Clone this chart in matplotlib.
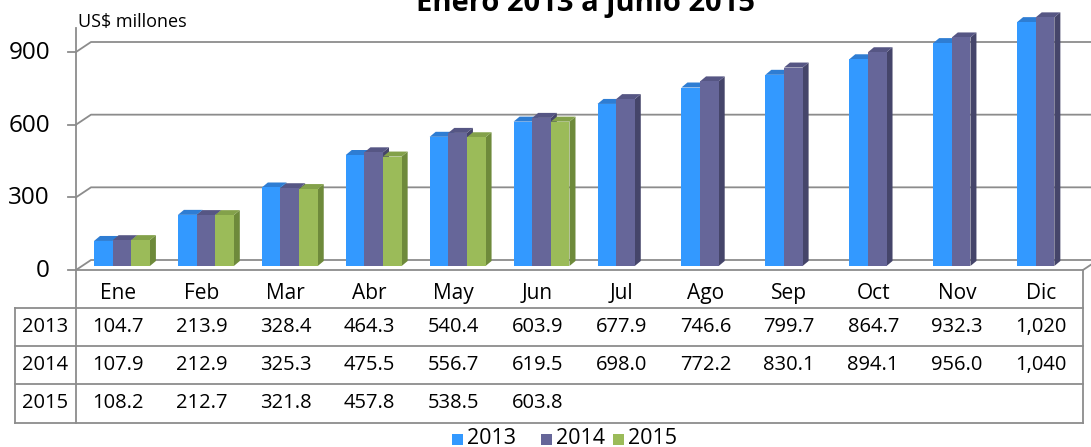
import matplotlib
matplotlib.use("Agg")
import matplotlib.pyplot as plt
from matplotlib.patches import Polygon, Rectangle
from matplotlib.lines import Line2D
from matplotlib.transforms import Affine2D, IdentityTransform

plt.rcParams['font.family'] = ['Open Sans', 'DejaVu Sans']

# data
months = ["Ene", "Feb", "Mar", "Abr", "May", "Jun",
          "Jul", "Ago", "Sep", "Oct", "Nov", "Dic"]
years = ["2013", "2014", "2015"]
v2013 = [104.7, 213.9, 328.4, 464.3, 540.4, 603.9, 677.9, 746.6, 799.7, 864.7, 932.3, 1020]
v2014 = [107.9, 212.9, 325.3, 475.5, 556.7, 619.5, 698.0, 772.2, 830.1, 894.1, 956.0, 1040]
v2015 = [108.2, 212.7, 321.8, 457.8, 538.5, 603.8]
series = [v2013, v2014, v2015]
yticks = [0, 300, 600, 900]

title = "Enero 2013 a junio 2015"
unit_label = "US$ millones"

front_cols = ['#3399FF', '#666699', '#9BBB59']
top_cols = ['#2E7DD3', '#565684', '#83A14A']
side_cols = ['#2566B0', '#45456A', '#6E8A3B']
line_col = '#8C8C8C'

W, H = 1091, 447
fig = plt.figure(figsize=(W / 100, H / 100), dpi=100)


def fx(x):
    return x / W


def fy(y):
    # y measured from the top, in pixels
    return 1 - y / H


# plot area: 0 at y=270px, 900 at y=52px
px_per_unit = 218 / 900
ax = fig.add_axes([fx(76), fy(270), (1083 - 76) / W, 242 / H])
ax.set_xlim(-0.5, 11.5)
ax.set_ylim(0, 242 / px_per_unit)
ax.axis('off')

ident = IdentityTransform()


def pline(pts, lw=1.3, z=1):
    xs = [p[0] for p in pts]
    ys = [H - p[1] for p in pts]
    ax.add_line(Line2D(xs, ys, color=line_col, lw=lw, transform=ident,
                       clip_on=False, zorder=z))


# back wall grid + floor
DX, DY = 15, 10
x_left = 76
x_right = 1083
for v in yticks:
    y = H - ax.transData.transform((0, v))[1]
    pline([(x_left, y), (x_left + DX, y - DY), (W + 5, y - DY)])
    pline([(x_left - 8, y), (x_left, y)])
y0 = H - ax.transData.transform((0, 0))[1]
pline([(x_right, y0), (x_right + DX, y0 - DY)])

# y axis
pline([(x_left, 28), (x_left, 423)])
for v in yticks:
    y = H - ax.transData.transform((0, v))[1]
    fig.text(fx(50), fy(y + 1), str(v), ha='right', va='center', fontsize=17.5)

# bars with a bit of depth (slightly foreshortened like the 3D original)
OX, OY = 4, 4      # front face offset
BX, BY = 6, 5      # bar depth
BW = 0.222
K = 0.987
base = H - y0
proj = Affine2D().translate(0, -base).scale(1, K).translate(OX, base + OY)
bar_tr = ax.transData + proj
for j, vals in enumerate(series):
    xs = [i + (j - 1) * BW for i in range(len(vals))]
    ax.bar(xs, vals, width=BW, color=front_cols[j], linewidth=0,
           transform=bar_tr, clip_on=False, zorder=3 + j * 0.1)
    for x, h in zip(xs, vals):
        x0, b = bar_tr.transform((x - BW / 2, 0))
        x1, t = bar_tr.transform((x + BW / 2, h))
        side = Polygon([(x1, b), (x1, t), (x1 + BX, t + BY), (x1 + BX, b + BY)],
                       closed=True, facecolor=side_cols[j], linewidth=0,
                       transform=ident, clip_on=False, zorder=2.95 + j * 0.1)
        top = Polygon([(x0, t), (x1, t), (x1 + BX, t + BY), (x0 + BX, t + BY)],
                      closed=True, facecolor=top_cols[j], linewidth=0,
                      transform=ident, clip_on=False, zorder=2.95 + j * 0.1)
        ax.add_patch(side)
        ax.add_patch(top)

# data table
rows_y = [270, 308, 346, 384, 423]
pline([(x_left, 270), (x_right, 270)])
for y in rows_y[1:]:
    pline([(15, y), (x_right, y)])
pline([(15, 308), (15, 423)])
pline([(x_right, 270), (x_right, 423)])

col_px = [ax.transData.transform((i, 0))[0] for i in range(len(months))]
for cx, m in zip(col_px, months):
    fig.text(fx(cx), fy(299), m, ha='center', va='baseline', fontsize=15)


def fmt(v):
    return f"{v:,.0f}" if v >= 1000 else f"{v:.1f}"


for r, (yr, vals) in enumerate(zip(years, series)):
    cy = (rows_y[r + 1] + rows_y[r + 2]) / 2
    fig.text(fx(45.5), fy(cy), yr, ha='center', va='center', fontsize=14.5)
    for cx, v in zip(col_px, vals):
        fig.text(fx(cx), fy(cy), fmt(v), ha='center', va='center', fontsize=14.5)

# titles
fig.text(fx(586), fy(11), title, ha='center', va='baseline',
         fontsize=21, fontweight='bold')
fig.text(fx(78), fy(27), unit_label, ha='left', va='baseline', fontsize=13)

# legend
leg_x = [452, 541, 613]
for lx, yr, c in zip(leg_x, years, front_cols):
    fig.patches.append(Rectangle((fx(lx), fy(445)), 11 / W, 11 / H,
                                 transform=fig.transFigure, facecolor=c,
                                 linewidth=0))
    fig.text(fx(lx + 15), fy(439), yr, ha='left', va='center', fontsize=15.5)

fig.savefig("out.png", dpi=100)
